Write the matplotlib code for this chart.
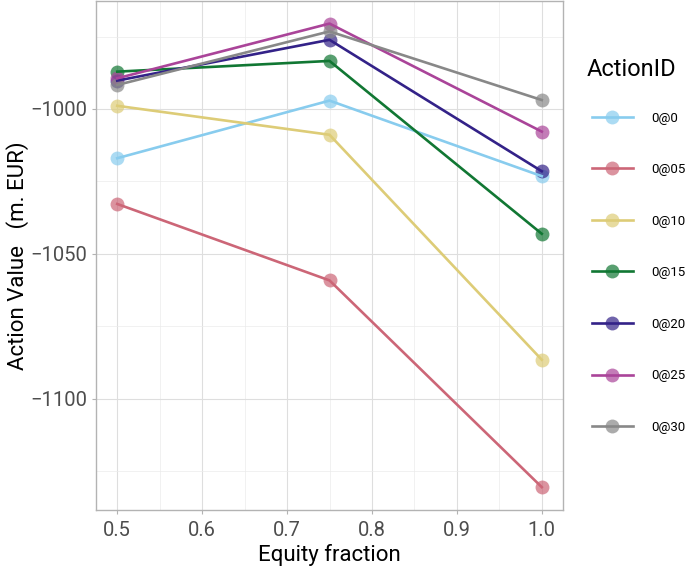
import matplotlib.pyplot as plt
from matplotlib.lines import Line2D
from matplotlib.ticker import MultipleLocator

plt.rcParams['font.family'] = ['Roboto', 'DejaVu Sans']

# data
equity = [0.5, 0.75, 1.0]
action_ids = ['0@0', '0@05', '0@10', '0@15', '0@20', '0@25', '0@30']
v_0 = [-1017.0, -997.1, -1023.2]
v_05 = [-1032.8, -1059.2, -1130.6]
v_10 = [-998.9, -1008.9, -1086.6]
v_15 = [-987.1, -983.4, -1043.1]
v_20 = [-990.2, -976.1, -1021.5]
v_25 = [-989.4, -970.5, -1007.8]
v_30 = [-991.7, -973.2, -996.9]
series = [v_0, v_05, v_10, v_15, v_20, v_25, v_30]
colors = ['#88CCEE', '#CC6677', '#DDCC77', '#117733', '#332288', '#AA4499', '#888888']

fig = plt.figure(figsize=(6.85, 5.7), dpi=100)
ax = fig.add_axes([96 / 685, 1 - 510 / 570, 467 / 685, 509 / 570])

for vals, c in zip(series, colors):
    ax.plot(equity, vals, 'o', color=c, ms=10, alpha=0.7, mec='none', zorder=3)
for vals, c in zip(series, colors):
    ax.plot(equity, vals, '-', color=c, lw=1.9, zorder=4)

ax.set_xlim(0.475, 1.025)
ax.set_ylim(-1138.5, -962.7)
ax.xaxis.set_minor_locator(MultipleLocator(0.05))
ax.yaxis.set_minor_locator(MultipleLocator(25))
ax.set_xticks([0.5, 0.6, 0.7, 0.8, 0.9, 1.0])
ax.set_xticklabels(['0.5', '0.6', '0.7', '0.8', '0.9', '1.0'])
ax.set_yticks([-1000, -1050, -1100])
ax.set_yticklabels(['\u22121000', '\u22121050', '\u22121100'])
ax.grid(which='major', color='#dedede', lw=0.8)
ax.grid(which='minor', color='#ebebeb', lw=0.5)
ax.set_axisbelow(True)
for s in ax.spines.values():
    s.set_color('#b3b3b3')
    s.set_linewidth(1.0)
ax.tick_params(which='major', colors='#b3b3b3', labelcolor='#4d4d4d',
               labelsize=14.5, length=3, width=0.8)
ax.tick_params(axis='x', pad=5)
ax.tick_params(which='minor', length=0)

ax.set_xlabel('Equity fraction', fontsize=16)
ax.xaxis.set_label_coords(0.5, -0.066)
ax.set_ylabel('Action Value   (m. EUR)', fontsize=16)
ax.yaxis.set_label_coords((29 - 96) / 467, 0.5)

# legend: title placed on its own, entries below
fig.text(587 / 685, 1 - 70 / 570, 'ActionID', fontsize=17, va='center', ha='left')
handles = []
for c in colors:
    handles.append(Line2D([], [], color=c, lw=1.9, marker='o', ms=10,
                          markerfacecolor=c + 'b3', mec='none'))
leg = fig.legend(handles, action_ids, loc='upper left',
                 bbox_to_anchor=(592 / 685, 1 - 111.5 / 570),
                 frameon=False, fontsize=9.5, labelspacing=2.92,
                 handlelength=3.1, handletextpad=1.36,
                 borderpad=0, borderaxespad=0)

fig.savefig('out.png', dpi=100)
